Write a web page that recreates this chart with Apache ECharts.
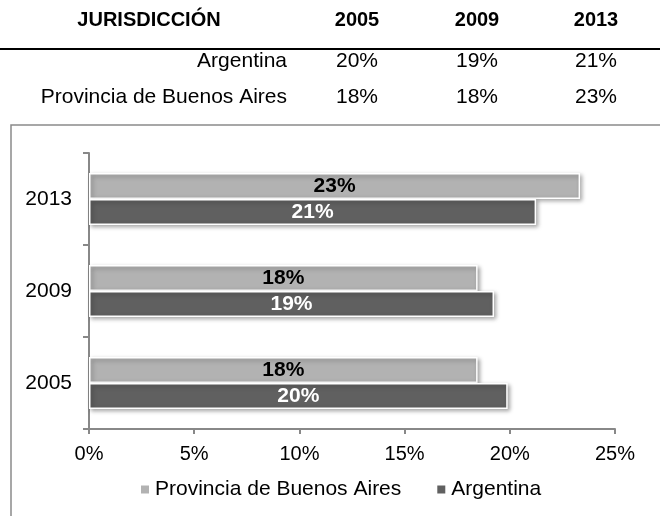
<!DOCTYPE html>
<html>
<head>
<meta charset="utf-8">
<script src="https://cdn.jsdelivr.net/npm/echarts@6/dist/echarts.min.js"></script>
<style>
html,body{margin:0;padding:0;background:#fff;}
#main{width:660px;height:516px;}
</style>
</head>
<body>
<div id="main"></div>
<script>
// ---- data ----
const years = ['2005', '2009', '2013'];
const seriesNames = ['Provincia de Buenos Aires', 'Argentina'];
const provinciaValues = [18.47, 18.47, 23.34];
const argentinaValues = [19.9, 19.25, 21.25];
const tableHeader = ['JURISDICCIÓN', '2005', '2009', '2013'];
const tableRowNames = ['Argentina', 'Provincia de Buenos Aires'];
const tableArgentina = ['20%', '19%', '21%'];
const tableProvincia = ['18%', '18%', '23%'];
const xTicks = [0, 5, 10, 15, 20, 25];

const FONT = 'Liberation Sans, Arial, sans-serif';
const chart = echarts.init(document.getElementById('main'));

// table layout
const colX = [149, 357, 477, 596];
const rowY = [61, 97];
const tableRows = [tableArgentina, tableProvincia];
const graphics = [];
tableHeader.forEach((t, i) => {
  graphics.push({type: 'text', x: colX[i], y: 20, style: {text: t, font: 'bold 20px ' + FONT, fill: '#000', textAlign: 'center', textVerticalAlign: 'middle'}});
});
graphics.push({type: 'line', shape: {x1: 0, y1: 49, x2: 660, y2: 49}, style: {stroke: '#000', lineWidth: 2}});
tableRowNames.forEach((name, r) => {
  graphics.push({type: 'text', x: 287, y: rowY[r], style: {text: name, font: '21px ' + FONT, fill: '#000', textAlign: 'right', textVerticalAlign: 'middle'}});
  tableRows[r].forEach((v, c) => {
    graphics.push({type: 'text', x: colX[c + 1], y: rowY[r], style: {text: v, font: '21px ' + FONT, fill: '#000', textAlign: 'center', textVerticalAlign: 'middle'}});
  });
});
graphics.push({type: 'rect', z: -1, shape: {x: 11, y: 125, width: 700, height: 500}, style: {fill: 'none', stroke: '#8a8a8a', lineWidth: 1.5}});

const barStyle = (color) => ({
  color: color,
  borderColor: '#fff',
  borderWidth: 1.5,
  shadowColor: 'rgba(0,0,0,0.35)',
  shadowBlur: 4,
  shadowOffsetX: 2,
  shadowOffsetY: 2
});

chart.setOption({
  animation: false,
  backgroundColor: '#fff',
  graphic: graphics,
  grid: {left: 89, right: 45, top: 153, bottom: 87, containLabel: false},
  legend: {
    data: seriesNames,
    left: 134,
    top: 474,
    itemWidth: 10,
    itemHeight: 10,
    itemGap: 34,
    icon: 'rect',
    textStyle: {fontFamily: FONT, fontSize: 21, color: '#000'}
  },
  xAxis: {
    type: 'value',
    min: xTicks[0],
    max: xTicks[xTicks.length - 1],
    interval: 5,
    splitLine: {show: false},
    axisLine: {show: true, lineStyle: {color: '#888', width: 2}},
    axisTick: {show: true, length: 5, lineStyle: {color: '#888', width: 2}},
    axisLabel: {formatter: '{value}%', fontFamily: FONT, fontSize: 20, color: '#000', margin: 15}
  },
  yAxis: {
    type: 'category',
    data: years,
    axisLine: {show: true, lineStyle: {color: '#888', width: 2}},
    axisTick: {show: true, length: 6, lineStyle: {color: '#888', width: 2}},
    axisLabel: {fontFamily: FONT, fontSize: 21, color: '#000', margin: 17}
  },
  series: [
    {
      name: seriesNames[0],
      type: 'bar',
      data: provinciaValues,
      barWidth: 26,
      barGap: '0%',
      itemStyle: barStyle('#b2b2b2'),
      label: {show: true, position: 'inside', formatter: p => Math.round(p.value) + '%', fontFamily: FONT, fontWeight: 'bold', fontSize: 21, color: '#000'}
    },
    {
      name: seriesNames[1],
      type: 'bar',
      data: argentinaValues,
      barWidth: 26,
      barGap: '0%',
      itemStyle: barStyle('#606060'),
      label: {show: true, position: 'inside', formatter: p => Math.round(p.value) + '%', fontFamily: FONT, fontWeight: 'bold', fontSize: 21, color: '#fff'}
    }
  ]
});
</script>
</body>
</html>
